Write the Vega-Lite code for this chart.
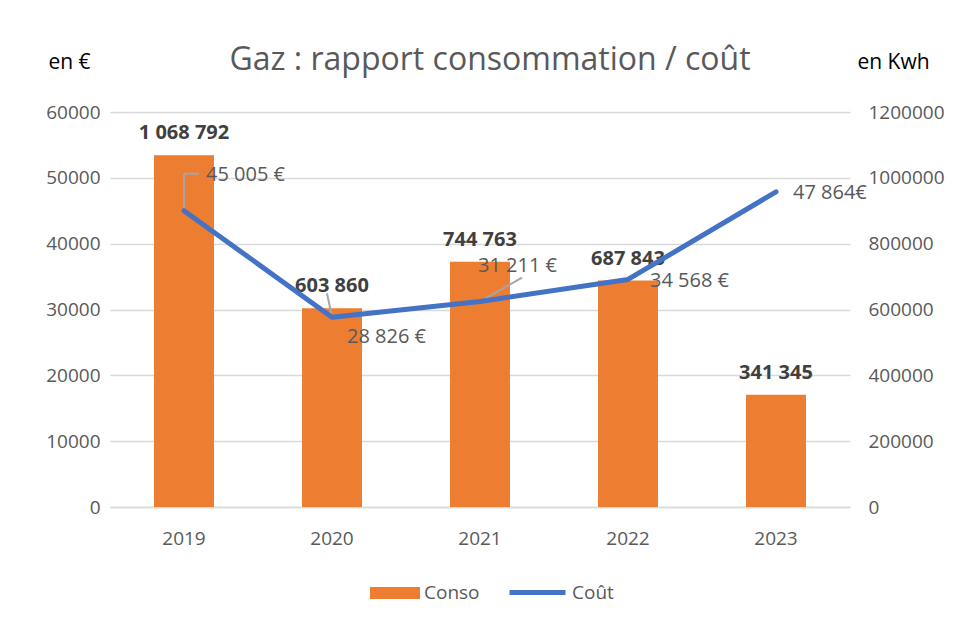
{
  "$schema": "https://vega.github.io/schema/vega-lite/v6.json",
  "autosize": {"type": "none"},
  "width": 740,
  "height": 395,
  "padding": {"left": 110, "top": 112, "right": 107, "bottom": 116},
  "background": "white",
  "title": {"text": "Gaz : rapport consommation / coût", "fontSize": 32, "fontWeight": "normal", "color": "#595959", "offset": 28, "dx": 10, "dy": 54, "font": "Open Sans"},
  "config": {
    "font": "Open Sans",
    "view": {"stroke": null},
    "locale": {"number": {"decimal": ",", "thousands": " ", "grouping": [3], "currency": ["", " €"]}},
    "axis": {"labelFont": "Open Sans", "labelColor": "#595959", "labelFontSize": 19, "ticks": false, "domain": false, "gridColor": "#D9D9D9", "gridWidth": 1.3, "labelOverlap": false},
    "legend": {"padding": 0, "labelFont": "Open Sans", "labelFontSize": 19, "labelColor": "#595959", "labelOffset": 4}
  },
  "data": {"values": [
    {"year": "2019", "conso": 1068792, "cout": 45005, "cout_label": "45 005 €"},
    {"year": "2020", "conso": 603860, "cout": 28826, "cout_label": "28 826 €"},
    {"year": "2021", "conso": 744763, "cout": 31211, "cout_label": "31 211 €"},
    {"year": "2022", "conso": 687843, "cout": 34568, "cout_label": "34 568 €"},
    {"year": "2023", "conso": 341345, "cout": 47864, "cout_label": "47 864€"}
  ]},
  "encoding": {
    "x": {"field": "year", "type": "ordinal", "scale": {"type": "band", "paddingInner": 0.595, "paddingOuter": 0.2975},
      "axis": {"title": null, "labelAngle": 0, "labelPadding": 22, "domain": true, "domainColor": "#D9D9D9", "domainWidth": 1.5, "grid": false}}
  },
  "layer": [
    {
      "encoding": {
        "y": {"field": "conso", "type": "quantitative", "scale": {"domain": [0, 1200000]},
          "axis": {"orient": "right", "title": "en Kwh", "titleAngle": 0, "titleX": 43, "titleY": -50, "titleAlign": "center", "titleBaseline": "middle", "titleFont": "Open Sans", "titleFontSize": 21, "titleFontWeight": "normal", "titleColor": "#000000", "format": "d", "values": [0, 200000, 400000, 600000, 800000, 1000000, 1200000], "labelPadding": 18, "labelOverlap": false, "grid": false}}
      },
      "layer": [
        {"mark": {"type": "bar", "color": "#ED7D31"},
         "encoding": {"fill": {"datum": "Conso", "type": "nominal", "scale": {"domain": ["Conso"], "range": ["#ED7D31"]},
           "legend": {"title": null, "orient": "none", "legendX": 260, "legendY": 456, "symbolType": "M-1,-0.24H1V0.24H-1Z", "symbolSize": 2500, "symbolStrokeWidth": 0, "symbolOpacity": 1}}}},
        {"mark": {"type": "text", "baseline": "bottom", "dy": -12, "fontSize": 20, "fontWeight": "bold", "color": "#404040"},
         "encoding": {"text": {"field": "conso", "type": "quantitative", "format": ",d"}}}
      ]
    },
    {
      "encoding": {
        "y": {"field": "cout", "type": "quantitative", "scale": {"domain": [0, 60000]},
          "axis": {"orient": "left", "title": "en €", "titleAngle": 0, "titleX": -41, "titleY": -50, "titleAlign": "center", "titleBaseline": "middle", "titleFont": "Open Sans", "titleFontSize": 21, "titleFontWeight": "normal", "titleColor": "#000000", "format": "d", "values": [0, 10000, 20000, 30000, 40000, 50000, 60000], "labelPadding": 10, "labelOverlap": false, "grid": true}}
      },
      "layer": [
        {"transform": [{"filter": "datum.year == '2019'"}], "mark": {"type": "rule", "color": "#A6A6A6", "strokeWidth": 2, "y2Offset": -37},
         "encoding": {"y2": {"field": "cout"}}},
        {"transform": [{"filter": "datum.year == '2019'"}], "mark": {"type": "rule", "color": "#A6A6A6", "strokeWidth": 2, "yOffset": -37, "y2Offset": -37, "x2Offset": 15},
         "encoding": {"x2": {"field": "year"}, "y2": {"field": "cout"}}},
        {"transform": [{"filter": "datum.year == '2020'"}], "mark": {"type": "rule", "color": "#A6A6A6", "strokeWidth": 2, "x2Offset": -5, "y2Offset": -24},
         "encoding": {"x2": {"field": "year"}, "y2": {"field": "cout"}}},
        {"transform": [{"filter": "datum.year == '2021'"}], "mark": {"type": "rule", "color": "#A6A6A6", "strokeWidth": 2, "x2Offset": 42, "y2Offset": -24},
         "encoding": {"x2": {"field": "year"}, "y2": {"field": "cout"}}},
        {"mark": {"type": "line", "strokeWidth": 5, "strokeCap": "round", "strokeJoin": "round"},
         "encoding": {"stroke": {"datum": "Coût", "type": "nominal", "scale": {"domain": ["Coût"], "range": ["#4472C4"]},
           "legend": {"title": null, "orient": "none", "legendX": 397, "legendY": 450, "symbolType": "stroke", "symbolSize": 3136, "symbolStrokeWidth": 5}}}},
        {"transform": [{"filter": "datum.year == '2019'"}], "mark": {"type": "text", "align": "left", "baseline": "middle", "dx": 22, "dy": -36, "fontSize": 20, "color": "#595959"},
         "encoding": {"text": {"field": "cout_label"}}},
        {"transform": [{"filter": "datum.year == '2020'"}], "mark": {"type": "text", "align": "left", "baseline": "middle", "dx": 15, "dy": 20, "fontSize": 20, "color": "#595959"},
         "encoding": {"text": {"field": "cout_label"}}},
        {"transform": [{"filter": "datum.year == '2021'"}], "mark": {"type": "text", "align": "left", "baseline": "middle", "dx": -2, "dy": -36, "fontSize": 20, "color": "#595959"},
         "encoding": {"text": {"field": "cout_label"}}},
        {"transform": [{"filter": "datum.year == '2022'"}], "mark": {"type": "text", "align": "left", "baseline": "middle", "dx": 22, "dy": 2, "fontSize": 20, "color": "#595959"},
         "encoding": {"text": {"field": "cout_label"}}},
        {"transform": [{"filter": "datum.year == '2023'"}], "mark": {"type": "text", "align": "left", "baseline": "middle", "dx": 17, "dy": 1, "fontSize": 20, "color": "#595959"},
         "encoding": {"text": {"field": "cout_label"}}}
      ]
    }
  ],
  "resolve": {"scale": {"y": "independent"}}
}
